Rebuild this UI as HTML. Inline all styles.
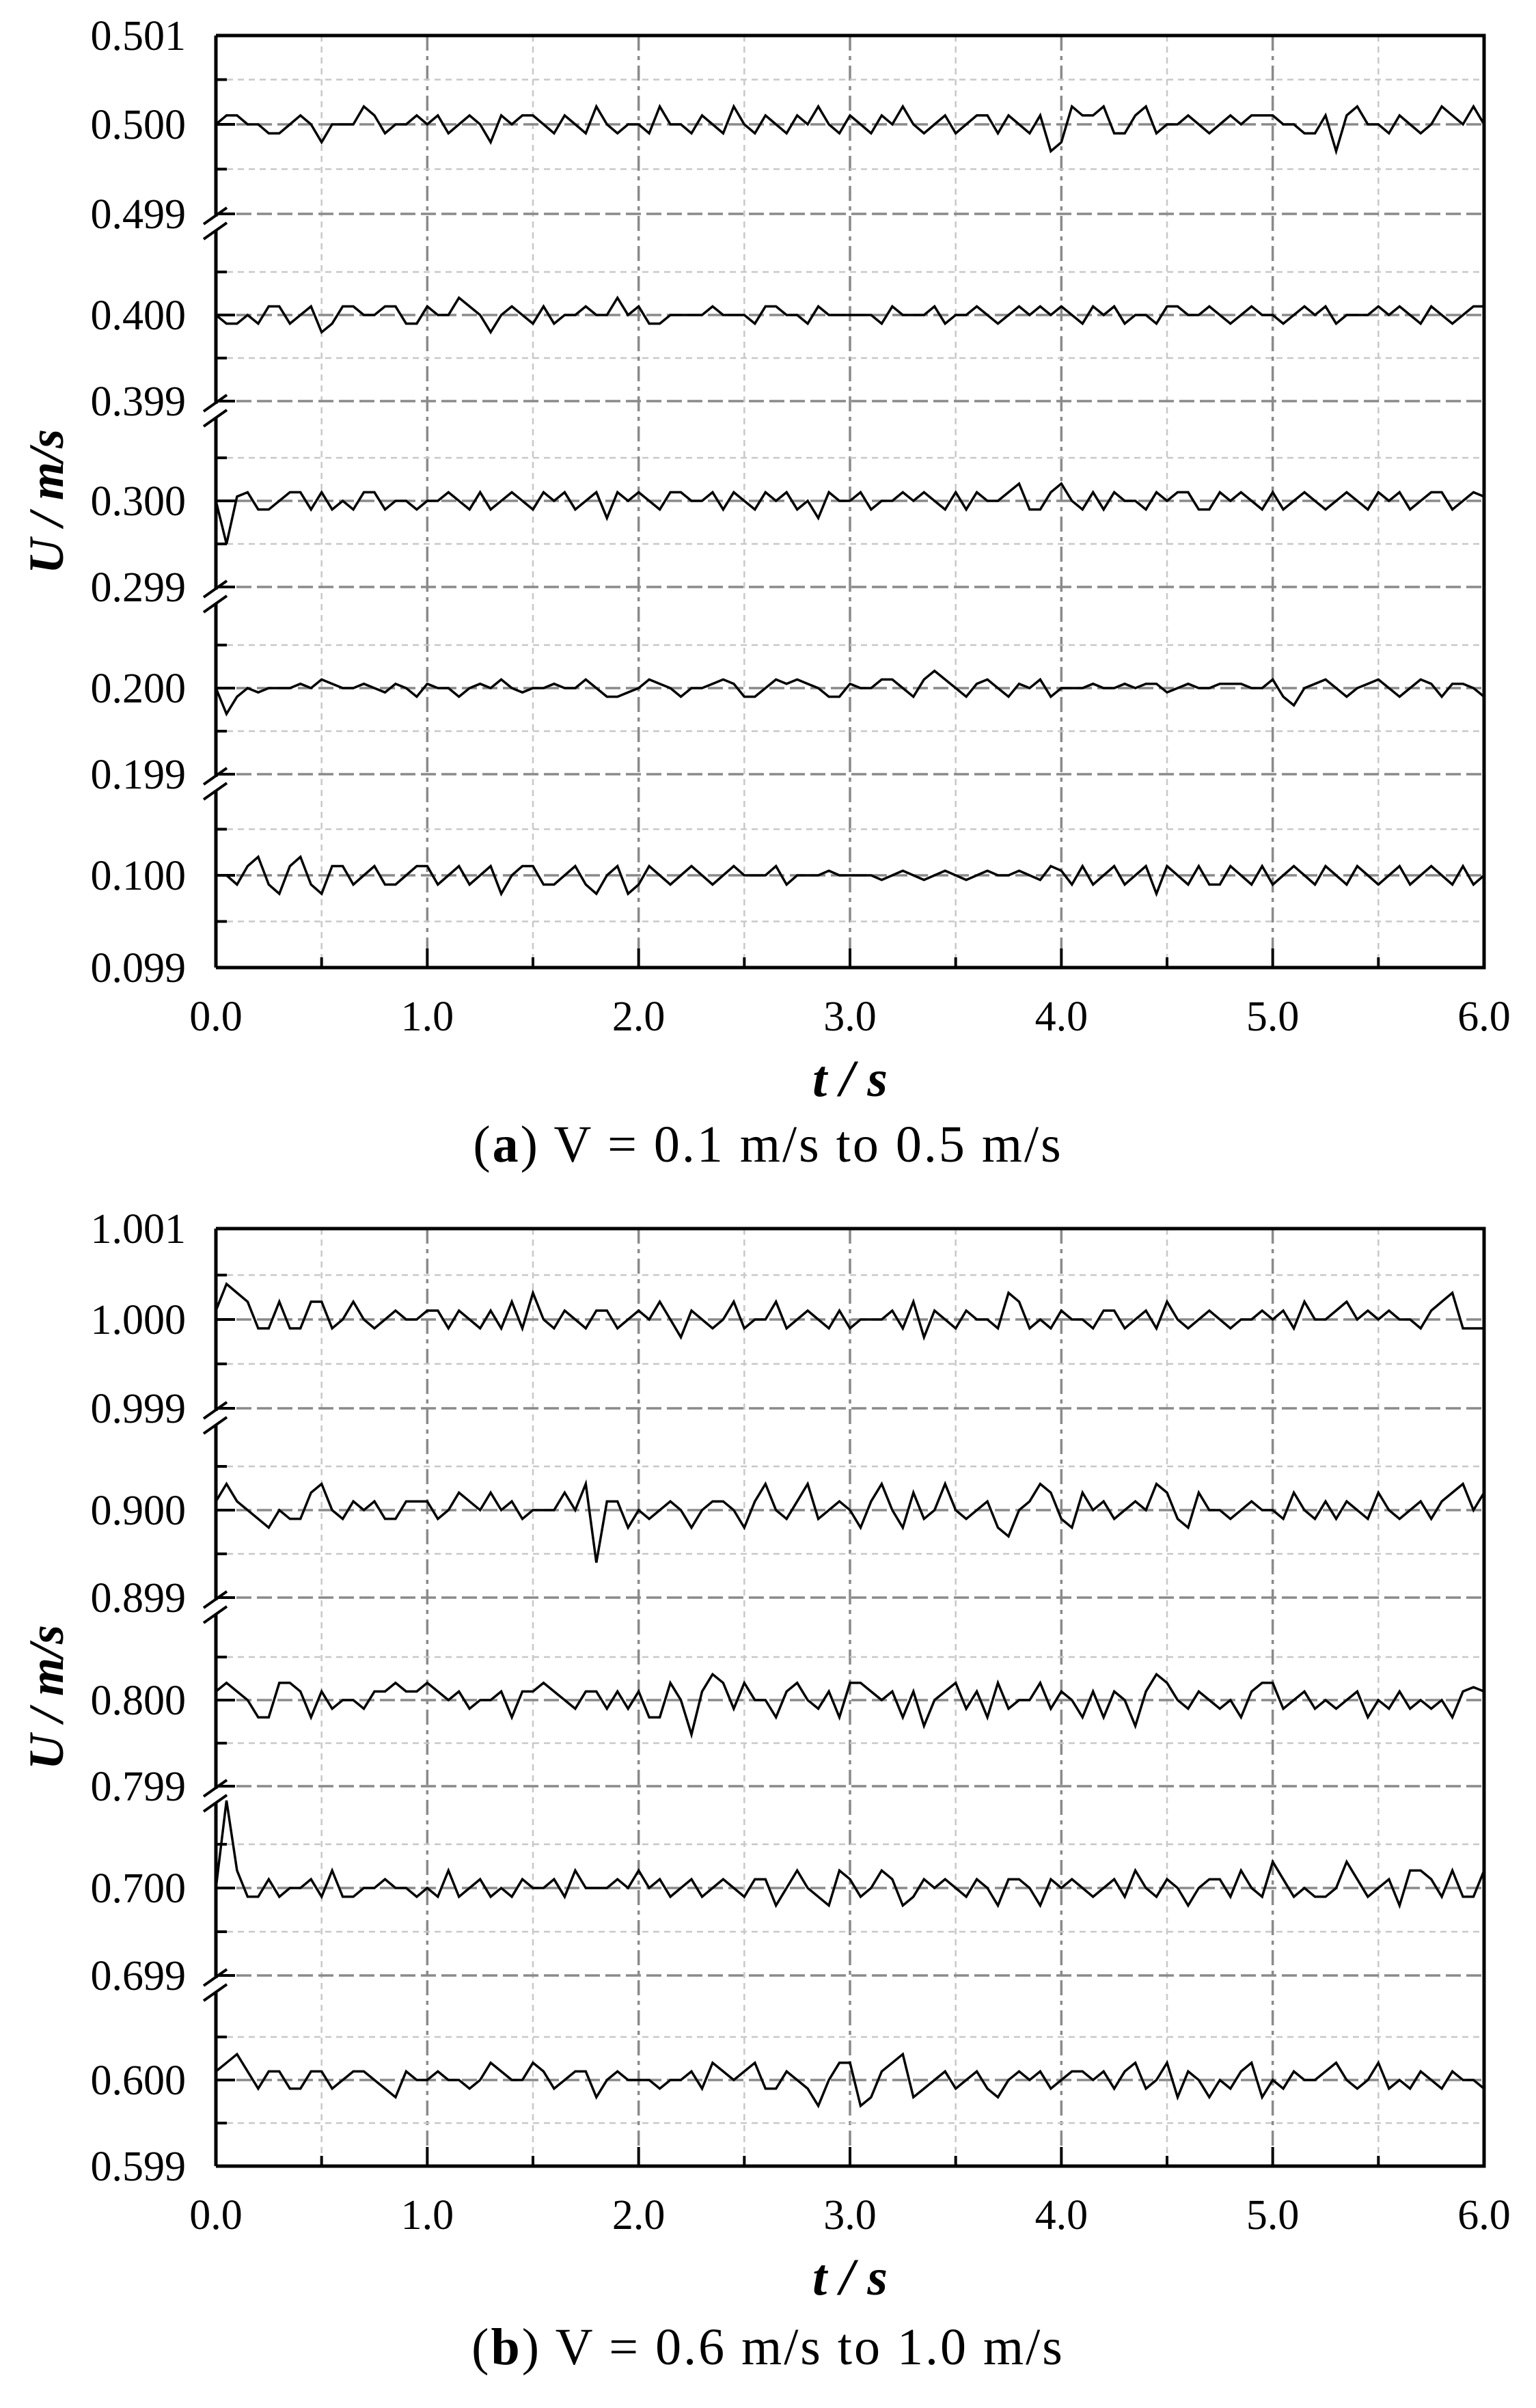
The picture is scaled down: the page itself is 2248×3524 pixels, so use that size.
<!DOCTYPE html>
<html><head><meta charset="utf-8"><style>
html,body{margin:0;padding:0;background:#fff;}
svg{display:block;font-family:"Liberation Serif",serif;}
</style></head><body>
<svg id="fig" width="2248" height="3524" viewBox="0 0 2248 3524" xmlns="http://www.w3.org/2000/svg"></svg>
<script>
// ---- data (deviation from base, in units of 1e-3 m/s), t = 0..6 s step 0.05 ----
const timeStep = 0.05;
const xTicks = [0,1,2,3,4,5,6];
const xTickLabels = ["0.0","1.0","2.0","3.0","4.0","5.0","6.0"];
const basesA = [0.5,0.4,0.3,0.2,0.1];
const basesB = [1.0,0.9,0.8,0.7,0.6];
const yLabelsA = ["0.501","0.500","0.499","0.400","0.399","0.300","0.299","0.200","0.199","0.100","0.099"];
const yLabelsB = ["1.001","1.000","0.999","0.900","0.899","0.800","0.799","0.700","0.699","0.600","0.599"];
const a500 = [0,0.1,0.1,0,0,-0.1,-0.1,0,0.1,0,-0.2,0,0,0,0.2,0.1,-0.1,0,0,0.1,
0,0.1,-0.1,0,0.1,0,-0.2,0.1,0,0.1,0.1,0,-0.1,0.1,0,-0.1,0.2,0,-0.1,0,
0,-0.1,0.2,0,0,-0.1,0.1,0,-0.1,0.2,0,-0.1,0.1,0,-0.1,0.1,0,0.2,0,-0.1,
0.1,0,-0.1,0.1,0,0.2,0,-0.1,0,0.1,-0.1,0,0.1,0.1,-0.1,0.1,0,-0.1,0.1,-0.3,
-0.2,0.2,0.1,0.1,0.2,-0.1,-0.1,0.1,0.2,-0.1,0,0,0.1,0,-0.1,0,0.1,0,0.1,0.1,
0.1,0,0,-0.1,-0.1,0.1,-0.3,0.1,0.2,0,0,-0.1,0.1,0,-0.1,0,0.2,0.1,0,0.2,0];
const a400 = [0,-0.1,-0.1,0,-0.1,0.1,0.1,-0.1,0,0.1,-0.2,-0.1,0.1,0.1,0,0,0.1,0.1,-0.1,-0.1,
0.1,0,0,0.2,0.1,0,-0.2,0,0.1,0,-0.1,0.1,-0.1,0,0,0.1,0,0,0.2,0,
0.1,-0.1,-0.1,0,0,0,0,0.1,0,0,0,-0.1,0.1,0.1,0,0,-0.1,0.1,0,0,
0,0,0,-0.1,0.1,0,0,0,0.1,-0.1,0,0,0.1,0,-0.1,0,0.1,0,0.1,0,
0.1,0,-0.1,0.1,0,0.1,-0.1,0,0,-0.1,0.1,0.1,0,0,0.1,0,-0.1,0,0.1,0,
0,-0.1,0,0.1,0,0.1,-0.1,0,0,0,0.1,0,0.1,0,-0.1,0.1,0,-0.1,0,0.1,0.1];
const a300 = [0,-0.5,0.05,0.1,-0.1,-0.1,0,0.1,0.1,-0.1,0.1,-0.1,0,-0.1,0.1,0.1,-0.1,0,0,-0.1,
0,0,0.1,0,-0.1,0.1,-0.1,0,0.1,0,-0.1,0.1,0,0.1,-0.1,0,0.1,-0.2,0.1,0,
0.1,0,-0.1,0.1,0.1,0,0,0.1,-0.1,0.1,0,-0.1,0.1,0,0.1,-0.1,0,-0.2,0.1,0,
0,0.1,-0.1,0,0,0.1,0,0.1,0,-0.1,0.1,-0.1,0.1,0,0,0.1,0.2,-0.1,-0.1,0.1,
0.2,0,-0.1,0.1,-0.1,0.1,0,0,-0.1,0.1,0,0.1,0.1,-0.1,-0.1,0.1,0,0.1,0,-0.1,
0.1,-0.1,0,0.1,0,-0.1,0,0.1,0,-0.1,0.1,0,0.1,-0.1,0,0.1,0.1,-0.1,0,0.1,0.05];
const a200 = [0,-0.3,-0.1,0,-0.05,0,0,0,0.05,0,0.1,0.05,0,0,0.05,0,-0.05,0.05,0,-0.1,
0.05,0,0,-0.1,0,0.05,0,0.1,0,-0.05,0,0,0.05,0,0,0.1,0,-0.1,-0.1,-0.05,
0,0.1,0.05,0,-0.1,0,0,0.05,0.1,0.05,-0.1,-0.1,0,0.1,0.05,0.1,0.05,0,-0.1,-0.1,
0.05,0,0,0.1,0.1,0,-0.1,0.1,0.2,0.1,0,-0.1,0.05,0.1,0,-0.1,0.05,0,0.1,-0.1,
0,0,0,0.05,0,0,0.05,0,0.05,0.05,-0.05,0,0.05,0,0,0.05,0.05,0.05,0,0,
0.1,-0.1,-0.2,0,0.05,0.1,0,-0.1,0,0.05,0.1,0,-0.1,0,0.1,0.05,-0.1,0.05,0.05,0,-0.1];
const a100 = [0,0,-0.1,0.1,0.2,-0.1,-0.2,0.1,0.2,-0.1,-0.2,0.1,0.1,-0.1,0,0.1,-0.1,-0.1,0,0.1,
0.1,-0.1,0,0.1,-0.1,0,0.1,-0.2,0,0.1,0.1,-0.1,-0.1,0,0.1,-0.1,-0.2,0,0.1,-0.2,
-0.1,0.1,0,-0.1,0,0.1,0,-0.1,0,0.1,0,0,0,0.1,-0.1,0,0,0,0.05,0,
0,0,0,-0.05,0,0.05,0,-0.05,0,0.05,0,-0.05,0,0.05,0,0,0.05,0,-0.05,0.1,
0.05,-0.1,0.1,-0.1,0,0.1,-0.1,0,0.1,-0.2,0.1,0,-0.1,0.1,-0.1,-0.1,0.1,0,-0.1,0.1,
-0.1,0,0.1,0,-0.1,0.1,0,-0.1,0.1,0,-0.1,0,0.1,-0.1,0,0.1,0,-0.1,0.1,-0.1,0];
const b1000 = [0.1,0.4,0.3,0.2,-0.1,-0.1,0.2,-0.1,-0.1,0.2,0.2,-0.1,0,0.2,0,-0.1,0,0.1,0,0,
0.1,0.1,-0.1,0.1,0,-0.1,0.1,-0.1,0.2,-0.1,0.3,0,-0.1,0.1,0,-0.1,0.1,0.1,-0.1,0,
0.1,0,0.2,0,-0.2,0.1,0,-0.1,0,0.2,-0.1,0,0,0.2,-0.1,0,0.1,0,-0.1,0.1,
-0.1,0,0,0,0.1,-0.1,0.2,-0.2,0.1,0,-0.1,0.1,0,0,-0.1,0.3,0.2,-0.1,0,-0.1,
0.1,0,0,-0.1,0.1,0.1,-0.1,0,0.1,-0.1,0.2,0,-0.1,0,0.1,0,-0.1,0,0,0.1,
0,0.1,-0.1,0.2,0,0,0.1,0.2,0,0.1,0,0.1,0,0,-0.1,0.1,0.2,0.3,-0.1,-0.1,-0.1];
const b900 = [0.1,0.3,0.1,0,-0.1,-0.2,0,-0.1,-0.1,0.2,0.3,0,-0.1,0.1,0,0.1,-0.1,-0.1,0.1,0.1,
0.1,-0.1,0,0.2,0.1,0,0.2,0,0.1,-0.1,0,0,0,0.2,0,0.3,-0.6,0.1,0.1,-0.2,
0,-0.1,0,0.1,0,-0.2,0,0.1,0.1,0,-0.2,0.1,0.3,0,-0.1,0.1,0.3,-0.1,0,0.1,
0,-0.2,0.1,0.3,0,-0.2,0.2,-0.1,0,0.3,0,-0.1,0,0.1,-0.2,-0.3,0,0.1,0.3,0.2,
-0.1,-0.2,0.2,0,0.1,-0.1,0,0.1,0,0.3,0.2,-0.1,-0.2,0.2,0,0,-0.1,0,0.1,0,
0,-0.1,0.2,0,-0.1,0.1,-0.1,0.1,0,-0.1,0.2,0,-0.1,0,0.1,-0.1,0.1,0.2,0.3,0,0.2];
const b800 = [0.1,0.2,0.1,0,-0.2,-0.2,0.2,0.2,0.1,-0.2,0.1,-0.1,0,0,-0.1,0.1,0.1,0.2,0.1,0.1,
0.2,0.1,0,0.1,-0.1,0,0,0.1,-0.2,0.1,0.1,0.2,0.1,0,-0.1,0.1,0.1,-0.1,0.1,-0.1,
0.1,-0.2,-0.2,0.2,0,-0.4,0.1,0.3,0.2,-0.1,0.2,0,0,-0.2,0.1,0.2,0,-0.1,0.1,-0.2,
0.2,0.2,0.1,0,0.1,-0.2,0.1,-0.3,0,0.1,0.2,-0.1,0.1,-0.2,0.2,-0.1,0,0,0.2,-0.1,
0.1,0,-0.2,0.1,-0.2,0.1,0,-0.3,0.1,0.3,0.2,0,-0.1,0.1,0,-0.1,0,-0.2,0.1,0.2,
0.2,-0.1,0,0.1,-0.1,0,-0.1,0,0.1,-0.2,0,-0.1,0.1,-0.1,0,-0.1,0,-0.2,0.1,0.15,0.1];
const b700 = [0,1.0,0.2,-0.1,-0.1,0.1,-0.1,0,0,0.1,-0.1,0.2,-0.1,-0.1,0,0,0.1,0,0,-0.1,
0,-0.1,0.2,-0.1,0,0.1,-0.1,0,-0.1,0.1,0,0,0.1,-0.1,0.2,0,0,0,0.1,0,
0.2,0,0.1,-0.1,0,0.1,-0.1,0,0.1,0,-0.1,0.1,0.1,-0.2,0,0.2,0,-0.1,-0.2,0.2,
0.1,-0.1,0,0.2,0.1,-0.2,-0.1,0.1,0,0.1,0,-0.1,0.1,0,-0.2,0.1,0.1,0,-0.2,0.1,
0,0.1,0,-0.1,0,0.1,-0.1,0.2,0,-0.1,0.1,0,-0.2,0,0.1,0.1,-0.1,0.2,0,-0.1,
0.3,0.1,-0.1,0,-0.1,-0.1,0,0.3,0.1,-0.1,0,0.1,-0.2,0.2,0.2,0.1,-0.1,0.2,-0.1,-0.1,0.2];
const b600 = [0.1,0.2,0.3,0.1,-0.1,0.1,0.1,-0.1,-0.1,0.1,0.1,-0.1,0,0.1,0.1,0,-0.1,-0.2,0.1,0,
0,0.1,0,0,-0.1,0,0.2,0.1,0,0,0.2,0.1,-0.1,0,0.1,0.1,-0.2,0,0.1,0,
0,0,-0.1,0,0,0.1,-0.1,0.2,0.1,0,0.1,0.2,-0.1,-0.1,0.1,0,-0.1,-0.3,0,0.2,
0.2,-0.3,-0.2,0.1,0.2,0.3,-0.2,-0.1,0,0.1,-0.1,0,0.1,-0.1,-0.2,0,0.1,0,0.1,-0.1,
0,0.1,0.1,0,0.1,-0.1,0.1,0.2,-0.1,0,0.2,-0.2,0.1,0,-0.2,0,-0.1,0.1,0.2,-0.2,
0,-0.1,0.1,0,0,0.1,0.2,0,-0.1,0,0.2,-0.1,0,-0.1,0.1,0,-0.1,0.1,0,0,-0.1];

const NS = "http://www.w3.org/2000/svg";
const svg = document.getElementById('fig');
function mk(tag, attrs, parent, txt){
  const e = document.createElementNS(NS, tag);
  for (const k in attrs) e.setAttribute(k, attrs[k]);
  if (txt !== undefined) e.textContent = txt;
  (parent||svg).appendChild(e); return e;
}
const X0 = 316, X1 = 2172;
function xScale(t){ return X0 + (X1 - X0) * t / 6; }

function panel(id, top, bottom, centers, lowers, bases, series, yLabels, captionBold, captionRest, capY){
  const g = mk('g', {}, svg);
  
  
  for (let t = 0.5; t < 6; t += 0.5) {
    const major = Math.abs(t - Math.round(t)) < 1e-9;
    const l = mk('line', {x1:xScale(t), x2:xScale(t), y1:top, y2:bottom,
      stroke: major ? '#8a8a8a' : '#c8c8c8', 'stroke-width': major ? 3.5 : 2.5,
      'stroke-dasharray': major ? '22 8 6 8' : '9 7'}, g);
    
    
  }
  for (let i = 0; i < 5; i++) {
    const s = lowers[i] - centers[i];
    const ys = [centers[i] - s/2, centers[i], centers[i] + s/2, lowers[i]];
    const maj = [false, true, false, true];
    ys.forEach((y, j) => {
      if (j === 3 && i === 4) return;
      const l = mk('line', {x1:X0, x2:X1, y1:y, y2:y, stroke: maj[j] ? '#8a8a8a' : '#c8c8c8',
        'stroke-width': maj[j] ? 3.5 : 2.5, 'stroke-dasharray': maj[j] ? '22 8' : '9 7'}, g);
      
      
      const tk = mk('line', {x1:X0, x2:X0 + (maj[j] ? 28 : 16), y1:y, y2:y, stroke:'#000', 'stroke-width':4}, g);
      
      
    });
  }
  const labelYs = [top];
  for (let i = 0; i < 5; i++) { labelYs.push(centers[i]); labelYs.push(lowers[i]); }
  labelYs.forEach((y, k) => {
    const tx = mk('text', {x:272, y:y + 21, 'text-anchor':'end', 'font-size':62}, g, yLabels[k]);
    
    
  });
  series.forEach((arr, i) => {
    const s = lowers[i] - centers[i];
    const pts = arr.map((d, k) => {
      const v = bases[i] + d * 1e-3;
      const y = centers[i] - (v - bases[i]) / 0.001 * s;
      return xScale(k * timeStep).toFixed(1) + ',' + y.toFixed(1);
    }).join(' ');
    const p = mk('polyline', {points:pts, fill:'none', stroke:'#000', 'stroke-width':3.5, 'stroke-linejoin':'miter'}, g);
    
    
  });
  const fr = mk('path', {d:`M${X0},${top} H${X1} V${bottom} H${X0}`, fill:'none', stroke:'#000', 'stroke-width':5}, g);
  
  
  const breaks = lowers.slice(0, 4);
  let yStart = top;
  breaks.forEach(b => {
    const ax = mk('line', {x1:X0, x2:X0, y1:yStart, y2:b + 4, stroke:'#000', 'stroke-width':5}, g);
    
    
    const s1 = mk('line', {x1:X0-18, x2:X0+16, y1:b+15, y2:b-9, stroke:'#000', 'stroke-width':4}, g);
    
    
    const s2 = mk('line', {x1:X0-18, x2:X0+16, y1:b+37, y2:b+13, stroke:'#000', 'stroke-width':4}, g);
    
    
    yStart = b + 25;
  });
  const axl = mk('line', {x1:X0, x2:X0, y1:yStart, y2:bottom, stroke:'#000', 'stroke-width':5}, g);
  
  
  for (let t = 0.5; t < 6; t += 0.5) {
    const major = Math.abs(t - Math.round(t)) < 1e-9;
    const tk = mk('line', {x1:xScale(t), x2:xScale(t), y1:bottom, y2:bottom - (major ? 28 : 15), stroke:'#000', 'stroke-width':4}, g);
    
    
  }
  xTicks.forEach((t, k) => {
    const tx = mk('text', {x:xScale(t), y:bottom + 92, 'text-anchor':'middle', 'font-size':62}, g, xTickLabels[k]);
    
    
  });
  const xt = mk('text', {x:(X0+X1)/2, y:bottom + 188, 'text-anchor':'middle', 'font-size':76, 'font-weight':'bold', 'font-style':'italic'}, g, 't / s');
  
  
  const yc = (top + bottom) / 2;
  const yt = mk('text', {x:0, y:0, 'text-anchor':'middle', 'font-size':72, 'font-weight':'bold', 'font-style':'italic',
    transform:`translate(92,${yc}) rotate(-90)`}, g, 'U / m/s');
  
  
  const cap = mk('text', {x:1124, y:capY, 'text-anchor':'middle', 'font-size':76, 'letter-spacing':'3'}, g);
  
  
  mk('tspan', {}, cap, '(');
  mk('tspan', {'font-weight':'bold'}, cap, captionBold);
  mk('tspan', {}, cap, ') ' + captionRest);
}

panel('panel-a', 52, 1416, [182,461,733,1007,1281], [313,587,859,1133,1416], basesA,
  [a500,a400,a300,a200,a100], yLabelsA, 'a', 'V = 0.1 m/s to 0.5 m/s', 1700);
panel('panel-b', 1798, 3170, [1931,2210,2488,2763,3044], [2061,2338,2614,2891,3170], basesB,
  [b1000,b900,b800,b700,b600], yLabelsB, 'b', 'V = 0.6 m/s to 1.0 m/s', 3460);
</script>
</body></html>
